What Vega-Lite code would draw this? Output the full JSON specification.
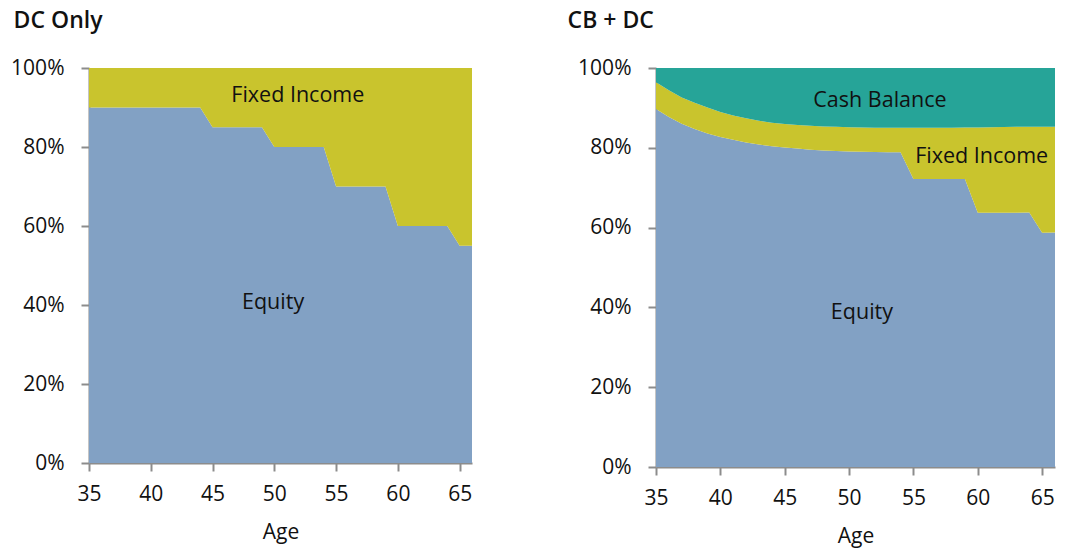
{
  "$schema": "https://vega.github.io/schema/vega-lite/v6.json",
  "padding": {"left": 10, "top": 10, "right": 8, "bottom": 4},
  "background": "white",
  "config": {
    "font": "Open Sans",
    "view": {"stroke": null},
    "axis": {
      "grid": false,
      "labelFlush": false,
      "domainColor": "#8c8c8c",
      "domainWidth": 2,
      "tickColor": "#8c8c8c",
      "tickWidth": 2,
      "tickSize": 8,
      "labelFontSize": 21,
      "labelColor": "#111111",
      "labelFont": "Open Sans",
      "titleFont": "Open Sans",
      "titleFontSize": 21,
      "titleFontWeight": "normal",
      "titleColor": "#111111"
    },
    "title": {"font": "Open Sans", "fontSize": 23, "fontWeight": 600, "color": "#111111", "anchor": "start", "frame": "bounds", "offset": 24}
  },
  "datasets": {
    "dc": [
      {"age": 35, "Equity": 90, "Fixed Income": 10},
      {"age": 36, "Equity": 90, "Fixed Income": 10},
      {"age": 37, "Equity": 90, "Fixed Income": 10},
      {"age": 38, "Equity": 90, "Fixed Income": 10},
      {"age": 39, "Equity": 90, "Fixed Income": 10},
      {"age": 40, "Equity": 90, "Fixed Income": 10},
      {"age": 41, "Equity": 90, "Fixed Income": 10},
      {"age": 42, "Equity": 90, "Fixed Income": 10},
      {"age": 43, "Equity": 90, "Fixed Income": 10},
      {"age": 44, "Equity": 90, "Fixed Income": 10},
      {"age": 45, "Equity": 85, "Fixed Income": 15},
      {"age": 46, "Equity": 85, "Fixed Income": 15},
      {"age": 47, "Equity": 85, "Fixed Income": 15},
      {"age": 48, "Equity": 85, "Fixed Income": 15},
      {"age": 49, "Equity": 85, "Fixed Income": 15},
      {"age": 50, "Equity": 80, "Fixed Income": 20},
      {"age": 51, "Equity": 80, "Fixed Income": 20},
      {"age": 52, "Equity": 80, "Fixed Income": 20},
      {"age": 53, "Equity": 80, "Fixed Income": 20},
      {"age": 54, "Equity": 80, "Fixed Income": 20},
      {"age": 55, "Equity": 70, "Fixed Income": 30},
      {"age": 56, "Equity": 70, "Fixed Income": 30},
      {"age": 57, "Equity": 70, "Fixed Income": 30},
      {"age": 58, "Equity": 70, "Fixed Income": 30},
      {"age": 59, "Equity": 70, "Fixed Income": 30},
      {"age": 60, "Equity": 60, "Fixed Income": 40},
      {"age": 61, "Equity": 60, "Fixed Income": 40},
      {"age": 62, "Equity": 60, "Fixed Income": 40},
      {"age": 63, "Equity": 60, "Fixed Income": 40},
      {"age": 64, "Equity": 60, "Fixed Income": 40},
      {"age": 65, "Equity": 55, "Fixed Income": 45},
      {"age": 66, "Equity": 55, "Fixed Income": 45}
    ],
    "cbdc": [
      {"age": 35, "Equity": 89.7, "Fixed Income": 6.7, "Cash Balance": 3.6},
      {"age": 36, "Equity": 87.7, "Fixed Income": 6.7, "Cash Balance": 5.6},
      {"age": 37, "Equity": 86.0, "Fixed Income": 6.6, "Cash Balance": 7.4},
      {"age": 38, "Equity": 84.7, "Fixed Income": 6.6, "Cash Balance": 8.7},
      {"age": 39, "Equity": 83.6, "Fixed Income": 6.5, "Cash Balance": 9.9},
      {"age": 40, "Equity": 82.7, "Fixed Income": 6.3, "Cash Balance": 11.0},
      {"age": 41, "Equity": 82.0, "Fixed Income": 6.1, "Cash Balance": 11.9},
      {"age": 42, "Equity": 81.3, "Fixed Income": 6.1, "Cash Balance": 12.6},
      {"age": 43, "Equity": 80.8, "Fixed Income": 6.0, "Cash Balance": 13.2},
      {"age": 44, "Equity": 80.4, "Fixed Income": 5.9, "Cash Balance": 13.7},
      {"age": 45, "Equity": 80.05, "Fixed Income": 5.9, "Cash Balance": 14.05},
      {"age": 46, "Equity": 79.8, "Fixed Income": 5.9, "Cash Balance": 14.3},
      {"age": 47, "Equity": 79.5, "Fixed Income": 6.0, "Cash Balance": 14.5},
      {"age": 48, "Equity": 79.3, "Fixed Income": 6.05, "Cash Balance": 14.65},
      {"age": 49, "Equity": 79.2, "Fixed Income": 6.05, "Cash Balance": 14.75},
      {"age": 50, "Equity": 79.1, "Fixed Income": 6.05, "Cash Balance": 14.85},
      {"age": 51, "Equity": 79.0, "Fixed Income": 6.1, "Cash Balance": 14.9},
      {"age": 52, "Equity": 78.95, "Fixed Income": 6.1, "Cash Balance": 14.95},
      {"age": 53, "Equity": 78.9, "Fixed Income": 6.1, "Cash Balance": 15.0},
      {"age": 54, "Equity": 78.9, "Fixed Income": 6.1, "Cash Balance": 15.0},
      {"age": 55, "Equity": 72.2, "Fixed Income": 12.8, "Cash Balance": 15.0},
      {"age": 56, "Equity": 72.2, "Fixed Income": 12.8, "Cash Balance": 15.0},
      {"age": 57, "Equity": 72.2, "Fixed Income": 12.85, "Cash Balance": 14.95},
      {"age": 58, "Equity": 72.2, "Fixed Income": 12.85, "Cash Balance": 14.95},
      {"age": 59, "Equity": 72.2, "Fixed Income": 12.9, "Cash Balance": 14.9},
      {"age": 60, "Equity": 63.7, "Fixed Income": 21.4, "Cash Balance": 14.9},
      {"age": 61, "Equity": 63.7, "Fixed Income": 21.45, "Cash Balance": 14.85},
      {"age": 62, "Equity": 63.75, "Fixed Income": 21.45, "Cash Balance": 14.8},
      {"age": 63, "Equity": 63.75, "Fixed Income": 21.5, "Cash Balance": 14.75},
      {"age": 64, "Equity": 63.8, "Fixed Income": 21.5, "Cash Balance": 14.7},
      {"age": 65, "Equity": 58.7, "Fixed Income": 26.6, "Cash Balance": 14.7},
      {"age": 66, "Equity": 58.8, "Fixed Income": 26.5, "Cash Balance": 14.7}
    ],
    "labels": [
      {"panel": "DC Only", "label": "Fixed Income", "age": 51.9, "pct": 93.0},
      {"panel": "DC Only", "label": "Equity", "age": 49.9, "pct": 40.5},
      {"panel": "CB + DC", "label": "Cash Balance", "age": 52.4, "pct": 91.8},
      {"panel": "CB + DC", "label": "Fixed Income", "age": 60.3, "pct": 77.8},
      {"panel": "CB + DC", "label": "Equity", "age": 51.0, "pct": 38.6}
    ]
  },
  "spacing": 95,
  "hconcat": [
    {
      "title": {"text": "DC Only", "dx": 3},
      "width": 383,
      "height": 395,
      "layer": [
        {
          "data": {"name": "dc"},
          "transform": [
            {"fold": ["Equity", "Fixed Income"], "as": ["asset", "share"]},
            {"calculate": "indexof(['Equity','Fixed Income','Cash Balance'], datum.asset)", "as": "ord"}
          ],
          "mark": {"type": "area", "interpolate": "linear"},
          "encoding": {
            "x": {"field": "age", "type": "quantitative", "scale": {"domain": [35, 66], "nice": false, "zero": false}, "axis": {"values": [35, 40, 45, 50, 55, 60, 65], "title": "Age", "labelPadding": 12, "titlePadding": 17}},
            "y": {"field": "share", "type": "quantitative", "stack": "zero", "scale": {"domain": [0, 100], "nice": false}, "axis": {"values": [0, 20, 40, 60, 80, 100], "labelExpr": "datum.value + '%'", "title": null, "labelPadding": 17}},
            "color": {"field": "asset", "type": "nominal", "scale": {"domain": ["Equity", "Fixed Income", "Cash Balance"], "range": ["#82a1c4", "#c9c42d", "#26a498"]}, "legend": null},
            "order": {"field": "ord", "type": "quantitative"}
          }
        },
        {
          "data": {"name": "labels"},
          "transform": [{"filter": "datum.panel == 'DC Only'"}],
          "mark": {"type": "text", "fontSize": 21.5, "font": "Open Sans", "color": "#111111", "align": "center", "baseline": "middle"},
          "encoding": {
            "x": {"field": "age", "type": "quantitative"},
            "y": {"field": "pct", "type": "quantitative"},
            "text": {"field": "label"}
          }
        }
      ]
    },
    {
      "title": {"text": "CB + DC", "dx": -10},
      "width": 399,
      "height": 399,
      "layer": [
        {
          "data": {"name": "cbdc"},
          "transform": [
            {"fold": ["Equity", "Fixed Income", "Cash Balance"], "as": ["asset", "share"]},
            {"calculate": "indexof(['Equity','Fixed Income','Cash Balance'], datum.asset)", "as": "ord"}
          ],
          "mark": {"type": "area", "interpolate": "linear"},
          "encoding": {
            "x": {"field": "age", "type": "quantitative", "scale": {"domain": [35, 66], "nice": false, "zero": false}, "axis": {"values": [35, 40, 45, 50, 55, 60, 65], "title": "Age", "labelPadding": 12, "titlePadding": 17}},
            "y": {"field": "share", "type": "quantitative", "stack": "zero", "scale": {"domain": [0, 100], "nice": false}, "axis": {"values": [0, 20, 40, 60, 80, 100], "labelExpr": "datum.value + '%'", "title": null, "labelPadding": 17}},
            "color": {"field": "asset", "type": "nominal", "scale": {"domain": ["Equity", "Fixed Income", "Cash Balance"], "range": ["#82a1c4", "#c9c42d", "#26a498"]}, "legend": null},
            "order": {"field": "ord", "type": "quantitative"}
          }
        },
        {
          "data": {"name": "labels"},
          "transform": [{"filter": "datum.panel == 'CB + DC'"}],
          "mark": {"type": "text", "fontSize": 21.5, "font": "Open Sans", "color": "#111111", "align": "center", "baseline": "middle"},
          "encoding": {
            "x": {"field": "age", "type": "quantitative"},
            "y": {"field": "pct", "type": "quantitative"},
            "text": {"field": "label"}
          }
        }
      ]
    }
  ]
}
